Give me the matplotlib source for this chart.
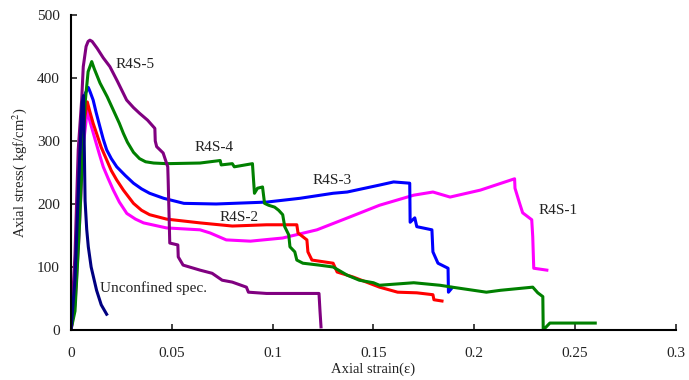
import numpy as np
import matplotlib.pyplot as plt

plt.rcParams['font.family'] = ['Liberation Serif', 'DejaVu Serif']
plt.rcParams['mathtext.fontset'] = 'stix'

# ---------------------------
# data (strain, stress in kgf/cm2)
# ---------------------------
unc_strain = [0, 0.002, 0.004, 0.0055, 0.0062, 0.0066, 0.0070, 0.0078, 0.0086, 0.010, 0.0127, 0.015, 0.0177]
unc_stress = [0, 80, 250, 360, 372, 290, 205, 160, 132, 100, 63, 40, 25]

s5_strain = [0, 0.002, 0.0036, 0.0053, 0.0061, 0.0075, 0.0085, 0.0094, 0.0105, 0.013, 0.016, 0.0193,
             0.023, 0.0276, 0.031, 0.034, 0.038, 0.0416,
             0.0418, 0.0425, 0.0457, 0.048, 0.0482, 0.049, 0.053, 0.0532, 0.0556, 0.064, 0.070, 0.075,
             0.080, 0.087, 0.088, 0.097, 0.123, 0.1235, 0.124]
s5_stress = [0, 120, 286, 365, 418, 450, 458, 460, 458, 447, 432, 418,
             395, 365, 353, 344, 333, 320,
             300, 291, 281, 259, 238, 138, 135, 116, 103, 95, 90, 79,
             76, 68, 60, 58, 58, 30, 5]

s4_strain = [0, 0.002, 0.004, 0.0055, 0.007, 0.0085, 0.0103, 0.0115, 0.0144, 0.018, 0.021, 0.024, 0.026,
             0.028, 0.031, 0.034, 0.037, 0.041,
             0.0475, 0.064, 0.074, 0.0745, 0.080, 0.081, 0.090, 0.0905, 0.091, 0.0925, 0.095, 0.096,
             0.098, 0.101, 0.103, 0.105, 0.106, 0.108, 0.1086, 0.111, 0.112, 0.115, 0.123, 0.130,
             0.137, 0.143, 0.150, 0.153, 0.170, 0.183, 0.189, 0.206, 0.213, 0.229, 0.2315, 0.234,
             0.2342, 0.2375, 0.260]
s4_stress = [0, 30, 150, 260, 360, 410, 426, 415, 392, 370, 349, 328, 312,
             298, 282, 272, 267, 265,
             264, 265, 269, 262, 264, 259, 264, 240, 217, 225, 227, 201,
             198, 195, 190, 183, 164, 151, 132, 124, 111, 106, 103, 100,
             87, 79, 75, 71, 75, 71, 68, 60, 63, 68, 59, 53,
             0, 11, 11]

s3_strain = [0, 0.002, 0.004, 0.0055, 0.007, 0.0086, 0.0095, 0.011, 0.0125, 0.0144, 0.016, 0.0177,
             0.020, 0.0227, 0.027, 0.031, 0.035, 0.039, 0.046,
             0.056, 0.072, 0.097, 0.1135, 0.130, 0.137, 0.153, 0.160, 0.168, 0.1682, 0.1705, 0.1715,
             0.179, 0.1795, 0.182, 0.187, 0.1872, 0.189]
s3_stress = [0, 50, 200, 330, 375, 385, 378, 365, 345, 322, 303, 286,
             272, 259, 245, 233, 224, 217, 209,
             201, 200, 203, 209, 217, 219, 230, 235, 233, 171, 178, 164,
             159, 124, 106, 98, 60, 67]

s2_strain = [0, 0.002, 0.004, 0.006, 0.0081, 0.0095, 0.011, 0.0127, 0.015, 0.0177, 0.020, 0.0227,
             0.026, 0.031, 0.035, 0.039, 0.0474, 0.064, 0.080,
             0.097, 0.112, 0.1126, 0.117, 0.1175, 0.1195, 0.130, 0.132, 0.140, 0.153, 0.162,
             0.1715, 0.1795, 0.180, 0.184]
s2_stress = [0, 50, 180, 320, 362, 345, 328, 312, 290, 270, 253, 238,
             222, 201, 190, 183, 176, 170, 165,
             167, 167, 154, 143, 124, 111, 106, 92, 84, 68, 60,
             59, 56, 48, 46]

s1_strain = [0, 0.002, 0.004, 0.006, 0.0081, 0.0095, 0.012, 0.014, 0.016, 0.0185, 0.021, 0.024,
             0.0277, 0.032, 0.036, 0.0474, 0.064, 0.069,
             0.077, 0.089, 0.105, 0.122, 0.138, 0.153, 0.170, 0.1795, 0.188, 0.203, 0.220,
             0.2202, 0.2225, 0.224, 0.2285, 0.229, 0.2295, 0.236]
s1_stress = [0, 40, 150, 290, 349, 330, 302, 280, 259, 240, 222, 203,
             185, 176, 170, 162, 159, 154,
             143, 141, 146, 159, 179, 198, 214, 219, 211, 222, 240,
             225, 201, 186, 175, 148, 98, 95]

series = [
    ('R4S-1', s1_strain, s1_stress, '#FF00FF'),
    ('R4S-2', s2_strain, s2_stress, '#FF0000'),
    ('R4S-3', s3_strain, s3_stress, '#0000FF'),
    ('R4S-4', s4_strain, s4_stress, '#008000'),
    ('R4S-5', s5_strain, s5_stress, '#800080'),
    ('Unconfined spec.', unc_strain, unc_stress, '#000080'),
]

# label anchors (strain, stress)
labels = {
    'R4S-5': (0.032, 421),
    'R4S-4': (0.0709, 289),
    'R4S-3': (0.1297, 238),
    'R4S-2': (0.0833, 178),
    'R4S-1': (0.2415, 189),
}

fig = plt.figure(figsize=(6.89, 3.80), dpi=100)
ax = fig.add_axes([0.103, 0.1316, 0.878, 0.829])

for name, xs, ys, col in series:
    ax.plot(xs, ys, color=col, linewidth=2.2, solid_joinstyle='round')

for name, (lx, ly) in labels.items():
    ax.text(lx, ly, name, fontsize=11, ha='center', va='center', color='#222222')
ax.text(0.0144, 67, 'Unconfined spec.', fontsize=11, ha='left', va='center', color='#222222')

ax.set_xlim(0, 0.3)
ax.set_ylim(0, 500)
ax.set_xticks([0, 0.05, 0.1, 0.15, 0.2, 0.25, 0.3])
ax.set_xticklabels(['0', '0.05', '0.1', '0.15', '0.2', '0.25', '0.3'])
ax.set_yticks([0, 100, 200, 300, 400, 500])

for side in ['top', 'right']:
    ax.spines[side].set_visible(False)
for side in ['left', 'bottom']:
    ax.spines[side].set_linewidth(1.5)

ax.tick_params(axis='both', direction='in', length=4, width=1.2, labelsize=11, colors='#222222')
ax.tick_params(axis='x', pad=12)
ax.tick_params(axis='y', pad=8)

ax.set_xlabel('Axial strain(ε)', fontsize=10.5, labelpad=2, color='#222222')
ax.set_ylabel('Axial stress( kgf/cm$^2$)', fontsize=10.5, labelpad=6, color='#222222')

fig.savefig('out.png', dpi=100)
